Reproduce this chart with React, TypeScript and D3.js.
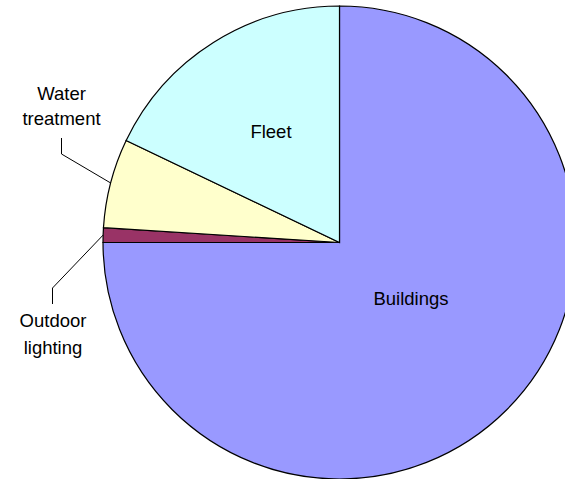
import React from "react";
import * as d3 from "d3";

const categories = ["Buildings", "Outdoor lighting", "Water treatment", "Fleet"];
const values = [75, 1, 6.1, 17.9];
const colors = ["#9999FF", "#993366", "#FFFFCC", "#CCFFFF"];

const W = 565;
const H = 479;
const cx = 339.5;
const cy = 242.5;
const R = 236.5;

export default function App() {
  const pie = d3.pie<number>().sort(null).value((d) => d);
  const arcs = pie(values);
  const arc = d3.arc<d3.PieArcDatum<number>>().innerRadius(0).outerRadius(R);
  const font = "'Liberation Sans', Arial, sans-serif";
  const fs = 18.5;

  const edge = (a: d3.PieArcDatum<number>) => {
    const m = (a.startAngle + a.endAngle) / 2;
    return [Math.sin(m) * R, -Math.cos(m) * R];
  };

  const wt = edge(arcs[2]);
  const ol = edge(arcs[1]);

  return (
    <svg width={W} height={H} style={{ position: "absolute", left: 0, top: 0 }}>
      <g transform={`translate(${cx},${cy})`}>
        {arcs.map((a, i) => (
          <path key={categories[i]} d={arc(a) || ""} fill={colors[i]} stroke="#000" strokeWidth={1.2} />
        ))}
        <polyline
          points={`${wt[0]},${wt[1]} ${61.5 - cx},${154 - cy} ${61.5 - cx},${138 - cy}`}
          fill="none"
          stroke="#000"
          strokeWidth={1}
        />
        <polyline
          points={`${ol[0]},${ol[1]} ${52.5 - cx},${288 - cy} ${52.5 - cx},${304 - cy}`}
          fill="none"
          stroke="#000"
          strokeWidth={1}
        />
      </g>
      <g fontFamily={font} fontSize={fs} fill="#000" textAnchor="middle">
        <text x={411} y={305}>{categories[0]}</text>
        <text x={271} y={138}>{categories[3]}</text>
        <text x={61.5} y={100}>Water</text>
        <text x={61.5} y={125}>treatment</text>
        <text x={53} y={327}>Outdoor</text>
        <text x={53} y={354}>lighting</text>
      </g>
    </svg>
  );
}
